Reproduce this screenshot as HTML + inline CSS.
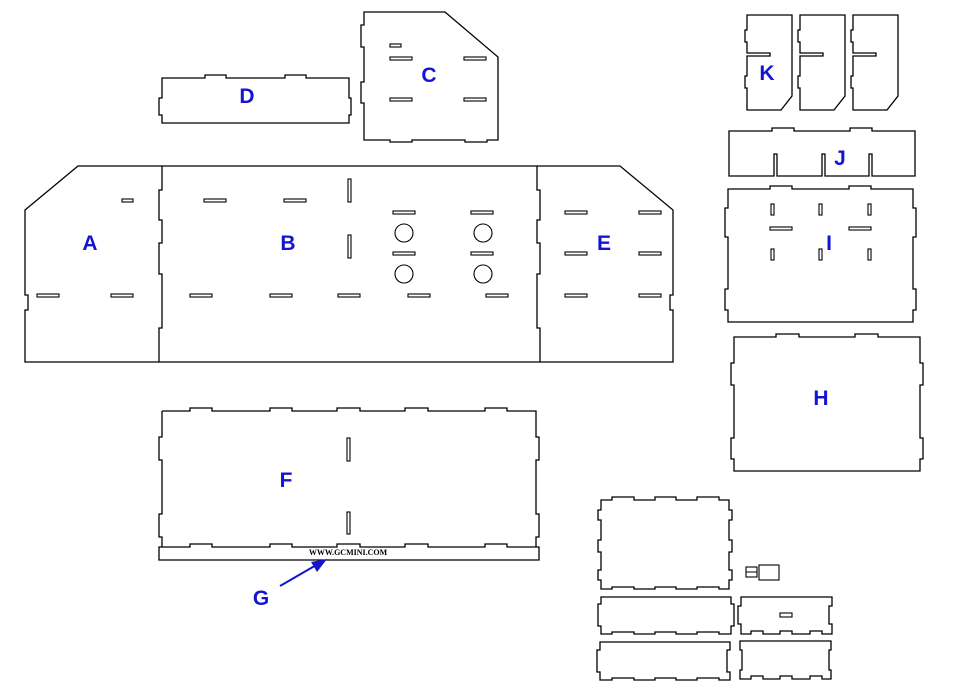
<!DOCTYPE html>
<html><head><meta charset="utf-8"><style>
html,body{margin:0;padding:0;background:#fff;width:971px;height:695px;overflow:hidden}
svg{display:block}
.o{fill:none;stroke:#000;stroke-width:1.3}
.s{fill:#fff;stroke:#000;stroke-width:1.1}
.l{font-family:"Liberation Sans",sans-serif;font-size:21px;font-weight:bold;fill:#1414d2;text-anchor:middle}
</style></head><body>
<svg width="971" height="695" viewBox="0 0 971 695" xmlns="http://www.w3.org/2000/svg">
<path class="o" d="M25,210 L78,166 L620,166 L673,210 L673,295 L670,295 L670,310 L673,310 L673,362 L25,362 L25,310 L28,310 L28,295 L25,295 Z"/>
<path class="o" d="M162,166 L162,190 L159,190 L159,220 L162,220 L162,243 L159,243 L159,274 L162,274 L162,328 L159,328 L159,350 L159,362"/>
<path class="o" d="M537,166 L537,190 L540,190 L540,220 L537,220 L537,243 L540,243 L540,274 L537,274 L537,328 L540,328 L540,350 L540,362"/>
<g class="s">
<rect x="122" y="199" width="11" height="3"/>
<rect x="37" y="294" width="22" height="3"/><rect x="111" y="294" width="22" height="3"/>
<rect x="204" y="199" width="22" height="3"/><rect x="284" y="199" width="22" height="3"/>
<rect x="190" y="294" width="22" height="3"/><rect x="270" y="294" width="22" height="3"/><rect x="338" y="294" width="22" height="3"/>
<rect x="393" y="211" width="22" height="3"/><rect x="471" y="211" width="22" height="3"/>
<rect x="393" y="252" width="22" height="3"/><rect x="471" y="252" width="22" height="3"/>
<rect x="408" y="294" width="22" height="3"/><rect x="486" y="294" width="22" height="3"/>
<rect x="348" y="179" width="3" height="23"/><rect x="348" y="235" width="3" height="23"/>
<circle cx="404" cy="233" r="9"/><circle cx="483" cy="233" r="9"/>
<circle cx="404" cy="274" r="9"/><circle cx="483" cy="274" r="9"/>
<rect x="565" y="211" width="22" height="3"/><rect x="639" y="211" width="22" height="3"/>
<rect x="565" y="252" width="22" height="3"/><rect x="639" y="252" width="22" height="3"/>
<rect x="565" y="294" width="22" height="3"/><rect x="639" y="294" width="22" height="3"/>
</g>
<path class="o" d="M162,78 L205,78 L205,75 L226,75 L226,78 L285,78 L285,75 L306,75 L306,78 L349,78 L349,98 L351,98 L351,115 L349,115 L349,123 L162,123 L162,115 L159,115 L159,98 L162,98 Z"/>
<path class="o" d="M364,12 L445,12 L498,57 L498,140 L487,140 L487,142 L465,142 L465,140 L412,140 L412,142 L390,142 L390,140 L364,140 L364,103 L361,103 L361,82 L364,82 L364,47 L361,47 L361,25 L364,25 Z"/>
<g class="s">
<rect x="390" y="44" width="11" height="3"/>
<rect x="390" y="57" width="22" height="3"/><rect x="464" y="57" width="22" height="3"/>
<rect x="390" y="98" width="22" height="3"/><rect x="464" y="98" width="22" height="3"/>
</g>
<path class="o" d="M747,15 L792,15 L792,96 L781,110 L747,110 L747,88 L745,88 L745,76 L747,76 L747,56 L770,56 L770,53 L747,53 L747,42 L745,42 L745,30 L747,30 Z"/>
<path class="o" d="M800,15 L845,15 L845,96 L834,110 L800,110 L800,88 L798,88 L798,76 L800,76 L800,56 L823,56 L823,53 L800,53 L800,42 L798,42 L798,30 L800,30 Z"/>
<path class="o" d="M853,15 L898,15 L898,96 L887,110 L853,110 L853,88 L851,88 L851,76 L853,76 L853,56 L876,56 L876,53 L853,53 L853,42 L851,42 L851,30 L853,30 Z"/>
<path class="o" d="M729,131 L772,131 L772,128 L794,128 L794,131 L850,131 L850,128 L872,128 L872,131 L915,131 L915,176 L872,176 L872,154 L869,154 L869,176 L825,176 L825,154 L822,154 L822,176 L777,176 L777,154 L774,154 L774,176 L729,176 Z"/>
<path class="o" d="M728,189 L770,189 L770,186 L792,186 L792,189 L849,189 L849,186 L871,186 L871,189 L913,189 L913,208 L916,208 L916,237 L913,237 L913,289 L916,289 L916,310 L913,310 L913,322 L728,322 L728,310 L725,310 L725,289 L728,289 L728,237 L725,237 L725,208 L728,208 Z"/>
<g class="s">
<rect x="771" y="204" width="3" height="11"/><rect x="819" y="204" width="3" height="11"/><rect x="868" y="204" width="3" height="11"/>
<rect x="771" y="249" width="3" height="11"/><rect x="819" y="249" width="3" height="11"/><rect x="868" y="249" width="3" height="11"/>
<rect x="770" y="227" width="22" height="3"/><rect x="849" y="227" width="22" height="3"/>
</g>
<path class="o" d="M734,337 L776,337 L776,334 L799,334 L799,337 L855,337 L855,334 L878,334 L878,337 L920,337 L920,363 L923,363 L923,385 L920,385 L920,438 L923,438 L923,459 L920,459 L920,471 L734,471 L734,459 L731,459 L731,438 L734,438 L734,385 L731,385 L731,363 L734,363 Z"/>
<path class="o" d="M162,411 L190,411 L190,408 L212,408 L212,411 L270,411 L270,408 L292,408 L292,411 L337,411 L337,408 L360,408 L360,411 L405,411 L405,408 L428,408 L428,411 L485,411 L485,408 L507,408 L507,411 L536,411 L536,437 L539,437 L539,460 L536,460 L536,514 L539,514 L539,537 L536,537 L536,547 M162,411 L162,437 L159,437 L159,460 L162,460 L162,514 L159,514 L159,537 L162,537 L162,547"/>
<g class="s"><rect x="347" y="438" width="3" height="23"/><rect x="347" y="512" width="3" height="22"/></g>
<path class="o" d="M159,547 L190,547 L190,544 L212,544 L212,547 L270,547 L270,544 L292,544 L292,547 L337,547 L337,544 L360,544 L360,547 L405,547 L405,544 L428,544 L428,547 L485,547 L485,544 L507,544 L507,547 L539,547 L539,560 L159,560 Z"/>
<text x="348" y="555" font-family="Liberation Serif,serif" font-weight="bold" font-size="8" text-anchor="middle">WWW.GCMINI.COM</text>
<line x1="280" y1="586" x2="318" y2="564" stroke="#1414d2" stroke-width="2"/>
<polygon points="327,559 311,562 317,572" fill="#1414d2"/>
<path class="o" d="M601,500 L612,500 L612,497 L634,497 L634,500 L655,500 L655,497 L676,497 L676,500 L697,500 L697,497 L719,497 L719,500 L729,500 L729,510 L732,510 L732,520 L729,520 L729,540 L732,540 L732,552 L729,552 L729,570 L732,570 L732,580 L729,580 L729,589 L719,589 L719,587 L697,587 L697,589 L676,589 L676,587 L655,587 L655,589 L634,589 L634,587 L612,587 L612,589 L601,589 L601,580 L598,580 L598,570 L601,570 L601,552 L598,552 L598,540 L601,540 L601,520 L598,520 L598,510 L601,510 Z"/>
<rect class="s" x="746" y="567" width="11" height="10"/><line x1="746" y1="572" x2="757" y2="572" stroke="#000"/>
<rect class="s" x="759" y="565" width="20" height="15"/>
<path class="o" d="M601,597 L731,597 L731,604 L734,604 L734,626 L731,626 L731,634 L719,634 L719,632 L697,632 L697,634 L676,634 L676,632 L655,632 L655,634 L634,634 L634,632 L612,632 L612,634 L601,634 L601,626 L598,626 L598,604 L601,604 Z"/>
<path class="o" d="M741,597 L832,597 L832,606 L829,606 L829,624 L832,624 L832,634 L822,634 L822,631 L810,631 L810,634 L792,634 L792,631 L780,631 L780,634 L763,634 L763,631 L751,631 L751,634 L741,634 L741,624 L738,624 L738,606 L741,606 Z"/>
<rect class="s" x="780" y="613" width="12" height="4"/>
<path class="o" d="M600,642 L730,642 L730,650 L727,650 L727,672 L730,672 L730,680 L719,680 L719,678 L697,678 L697,680 L676,680 L676,678 L655,678 L655,680 L634,680 L634,678 L612,678 L612,680 L600,680 L600,672 L597,672 L597,650 L600,650 Z"/>
<path class="o" d="M740,641 L831,641 L831,650 L829,650 L829,670 L831,670 L831,679 L822,679 L822,676 L810,676 L810,679 L792,679 L792,676 L780,676 L780,679 L763,679 L763,676 L751,676 L751,679 L740,679 L740,670 L742,670 L742,650 L740,650 Z"/>
<text class="l" x="90" y="250">A</text>
<text class="l" x="288" y="250">B</text>
<text class="l" x="429" y="82">C</text>
<text class="l" x="247" y="103">D</text>
<text class="l" x="604" y="250">E</text>
<text class="l" x="286" y="487">F</text>
<text class="l" x="261" y="605">G</text>
<text class="l" x="821" y="405">H</text>
<text class="l" x="829" y="250">I</text>
<text class="l" x="840" y="165">J</text>
<text class="l" x="767" y="80">K</text>
</svg>
</body></html>
